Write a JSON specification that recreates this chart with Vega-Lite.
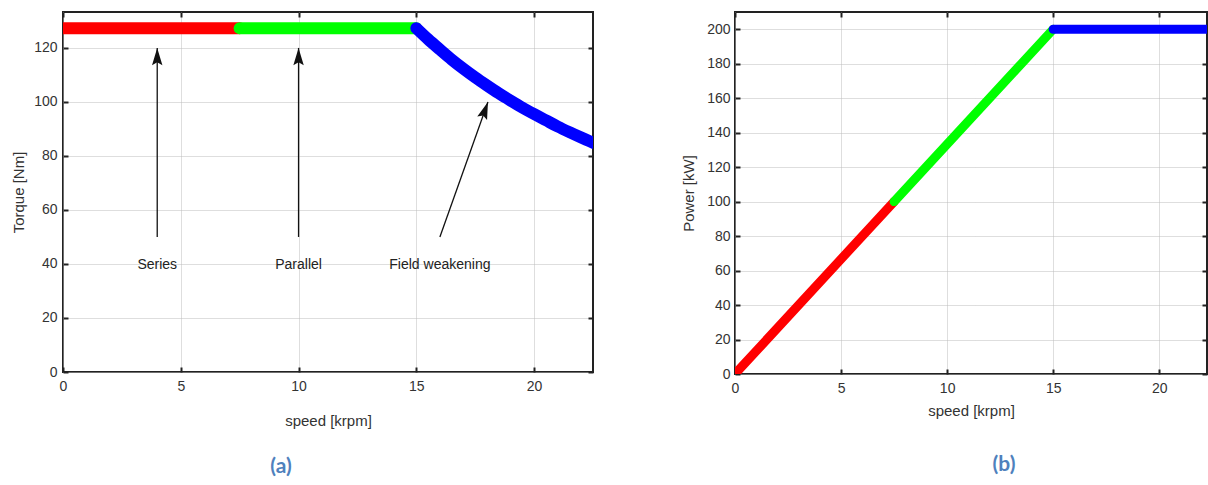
{
  "$schema": "https://vega.github.io/schema/vega-lite/v6.json",
  "padding": {"left": 10, "top": 10, "right": 0, "bottom": 0},
  "spacing": 85,
  "background": "white",
  "config": {
    "view": {"stroke": "#222", "strokeWidth": 2},
    "axis": {
      "domain": false,
      "tickSize": -5,
      "tickColor": "#222",
      "tickWidth": 2,
      "gridColor": "#bcbcbc",
      "gridDash": [1, 1],
      "gridWidth": 1,
      "labelFlush": false,
      "labelOverlap": false,
      "labelColor": "#333",
      "titleColor": "#333",
      "titleFontWeight": "normal"
    }
  },
  "datasets": {
    "torque": [
      {"speed": 0, "torque": 127.3, "mode": "Series"},
      {"speed": 7.5, "torque": 127.3, "mode": "Series"},
      {"speed": 7.5, "torque": 127.3, "mode": "Parallel"},
      {"speed": 15, "torque": 127.3, "mode": "Parallel"},
      {"speed": 15, "torque": 127.3, "mode": "Field weakening"},
      {"speed": 15.5, "torque": 123.2, "mode": "Field weakening"},
      {"speed": 16, "torque": 119.4, "mode": "Field weakening"},
      {"speed": 16.5, "torque": 115.7, "mode": "Field weakening"},
      {"speed": 17, "torque": 112.3, "mode": "Field weakening"},
      {"speed": 17.5, "torque": 109.1, "mode": "Field weakening"},
      {"speed": 18, "torque": 106.1, "mode": "Field weakening"},
      {"speed": 18.5, "torque": 103.2, "mode": "Field weakening"},
      {"speed": 19, "torque": 100.5, "mode": "Field weakening"},
      {"speed": 19.5, "torque": 97.9, "mode": "Field weakening"},
      {"speed": 20, "torque": 95.5, "mode": "Field weakening"},
      {"speed": 20.5, "torque": 93.2, "mode": "Field weakening"},
      {"speed": 21, "torque": 90.9, "mode": "Field weakening"},
      {"speed": 21.5, "torque": 88.8, "mode": "Field weakening"},
      {"speed": 22, "torque": 86.8, "mode": "Field weakening"},
      {"speed": 22.5, "torque": 84.9, "mode": "Field weakening"}
    ],
    "power": [
      {"speed": 0, "power": 0, "mode": "Series"},
      {"speed": 7.5, "power": 100, "mode": "Series"},
      {"speed": 7.5, "power": 100, "mode": "Parallel"},
      {"speed": 15, "power": 200, "mode": "Parallel"},
      {"speed": 15, "power": 200, "mode": "Field weakening"},
      {"speed": 22.5, "power": 200, "mode": "Field weakening"}
    ],
    "arrows": [
      {"label": "Series", "speed": 4, "torque": 50, "speed_tip": 4, "torque_tip": 120},
      {"label": "Parallel", "speed": 10, "torque": 50, "speed_tip": 10, "torque_tip": 120},
      {"label": "Field weakening", "speed": 16, "torque": 50, "speed_tip": 18.04, "torque_tip": 100}
    ],
    "labels": [
      {"text": "Series", "speed": 4, "torque": 39.5},
      {"text": "Parallel", "speed": 10, "torque": 39.5},
      {"text": "Field weakening", "speed": 16.0, "torque": 39.5}
    ]
  },
  "hconcat": [
    {
      "width": 530,
      "height": 360,
      "title": {"text": "(a)", "orient": "bottom", "anchor": "middle", "offset": 28, "dx": -47, "color": "#4f81bd", "font": "Lato", "fontWeight": "bold", "fontSize": 21},
      "layer": [
        {
          "data": {"name": "torque"},
          "mark": {"type": "line", "strokeWidth": 12, "strokeCap": "round", "clip": true, "interpolate": "monotone"},
          "encoding": {
            "x": {"field": "speed", "type": "quantitative", "scale": {"domain": [0, 22.5], "nice": false},
              "axis": {"values": [0, 5, 10, 15, 20], "title": "speed [krpm]", "grid": true, "labelPadding": 12, "labelFont": "Liberation Sans", "labelFontSize": 14, "titleFont": "Liberation Sans", "titleFontSize": 15, "titlePadding": 20}},
            "y": {"field": "torque", "type": "quantitative", "scale": {"domain": [0, 133.3], "nice": false},
              "axis": {"values": [0, 20, 40, 60, 80, 100, 120], "title": "Torque [Nm]", "grid": true, "labelPadding": 11, "labelFont": "Liberation Sans", "labelFontSize": 14, "titleFont": "Liberation Sans", "titleFontSize": 15, "titlePadding": 7}},
            "color": {"field": "mode", "type": "nominal", "scale": {"domain": ["Series", "Parallel", "Field weakening"], "range": ["#ff0000", "#00ff00", "#0000ff"]}, "legend": null}
          }
        },
        {
          "data": {"name": "torque"},
          "mark": {"type": "line", "opacity": 0},
          "encoding": {
            "x": {"field": "speed", "type": "quantitative", "scale": {"domain": [0, 22.5], "nice": false},
              "axis": {"orient": "top", "values": [0, 5, 10, 15, 20], "labels": false, "grid": false, "title": null}},
            "y": {"field": "torque", "type": "quantitative", "scale": {"domain": [0, 133.3], "nice": false},
              "axis": {"orient": "right", "values": [0, 20, 40, 60, 80, 100, 120], "labels": false, "grid": false, "title": null}}
          }
        },
        {
          "data": {"name": "arrows"},
          "mark": {"type": "rule", "color": "#111", "strokeWidth": 1.3},
          "encoding": {
            "x": {"field": "speed", "type": "quantitative", "scale": {"domain": [0, 22.5], "nice": false}, "axis": null},
            "y": {"field": "torque", "type": "quantitative", "scale": {"domain": [0, 133.3], "nice": false}, "axis": null},
            "x2": {"field": "speed_tip"},
            "y2": {"field": "torque_tip"}
          }
        },
        {
          "data": {"name": "arrows"},
          "transform": [{"filter": "datum.speed == datum.speed_tip"}],
          "mark": {"type": "point", "shape": "M0,0L0.6,2L0,1.65L-0.6,2Z", "size": 300, "filled": true, "color": "#111", "opacity": 1, "angle": 0},
          "encoding": {
            "x": {"field": "speed_tip", "type": "quantitative", "scale": {"domain": [0, 22.5], "nice": false}, "axis": null},
            "y": {"field": "torque_tip", "type": "quantitative", "scale": {"domain": [0, 133.3], "nice": false}, "axis": null}
          }
        },
        {
          "data": {"name": "arrows"},
          "transform": [{"filter": "datum.speed != datum.speed_tip"}],
          "mark": {"type": "point", "shape": "M0,0L0.6,2L0,1.65L-0.6,2Z", "size": 300, "filled": true, "color": "#111", "opacity": 1, "angle": 19.5},
          "encoding": {
            "x": {"field": "speed_tip", "type": "quantitative", "scale": {"domain": [0, 22.5], "nice": false}, "axis": null},
            "y": {"field": "torque_tip", "type": "quantitative", "scale": {"domain": [0, 133.3], "nice": false}, "axis": null}
          }
        },
        {
          "data": {"name": "labels"},
          "mark": {"type": "text", "font": "Liberation Sans", "fontSize": 14, "color": "#222", "align": "center", "baseline": "middle"},
          "encoding": {
            "x": {"field": "speed", "type": "quantitative", "scale": {"domain": [0, 22.5], "nice": false}, "axis": null},
            "y": {"field": "torque", "type": "quantitative", "scale": {"domain": [0, 133.3], "nice": false}, "axis": null},
            "text": {"field": "text"}
          }
        }
      ],
      "resolve": {"axis": {"x": "independent", "y": "independent"}}
    },
    {
      "width": 472,
      "height": 362,
      "title": {"text": "(b)", "orient": "bottom", "anchor": "middle", "offset": 36, "dx": 33, "color": "#4f81bd", "font": "Lato", "fontWeight": "bold", "fontSize": 21},
      "layer": [
        {
          "data": {"name": "power"},
          "mark": {"type": "line", "strokeWidth": 9, "strokeCap": "round", "clip": true},
          "encoding": {
            "x": {"field": "speed", "type": "quantitative", "scale": {"domain": [0, 22.25], "nice": false},
              "axis": {"values": [0, 5, 10, 15, 20], "title": "speed [krpm]", "grid": true, "labelPadding": 12, "labelFont": "Liberation Sans", "labelFontSize": 14, "titleFont": "Liberation Sans", "titleFontSize": 15, "titlePadding": 8}},
            "y": {"field": "power", "type": "quantitative", "scale": {"domain": [0, 210], "nice": false},
              "axis": {"values": [0, 20, 40, 60, 80, 100, 120, 140, 160, 180, 200], "title": "Power [kW]", "grid": true, "labelPadding": 10, "labelFont": "Liberation Sans", "labelFontSize": 14, "titleFont": "Liberation Sans", "titleFontSize": 15, "titlePadding": 10}},
            "color": {"field": "mode", "type": "nominal", "scale": {"domain": ["Series", "Parallel", "Field weakening"], "range": ["#ff0000", "#00ff00", "#0000ff"]}, "legend": null}
          }
        },
        {
          "data": {"name": "power"},
          "mark": {"type": "line", "opacity": 0},
          "encoding": {
            "x": {"field": "speed", "type": "quantitative", "scale": {"domain": [0, 22.25], "nice": false},
              "axis": {"orient": "top", "values": [0, 5, 10, 15, 20], "labels": false, "grid": false, "title": null}},
            "y": {"field": "power", "type": "quantitative", "scale": {"domain": [0, 210], "nice": false},
              "axis": {"orient": "right", "values": [0, 20, 40, 60, 80, 100, 120, 140, 160, 180, 200], "labels": false, "grid": false, "title": null}}
          }
        }
      ],
      "resolve": {"axis": {"x": "independent", "y": "independent"}}
    }
  ]
}
